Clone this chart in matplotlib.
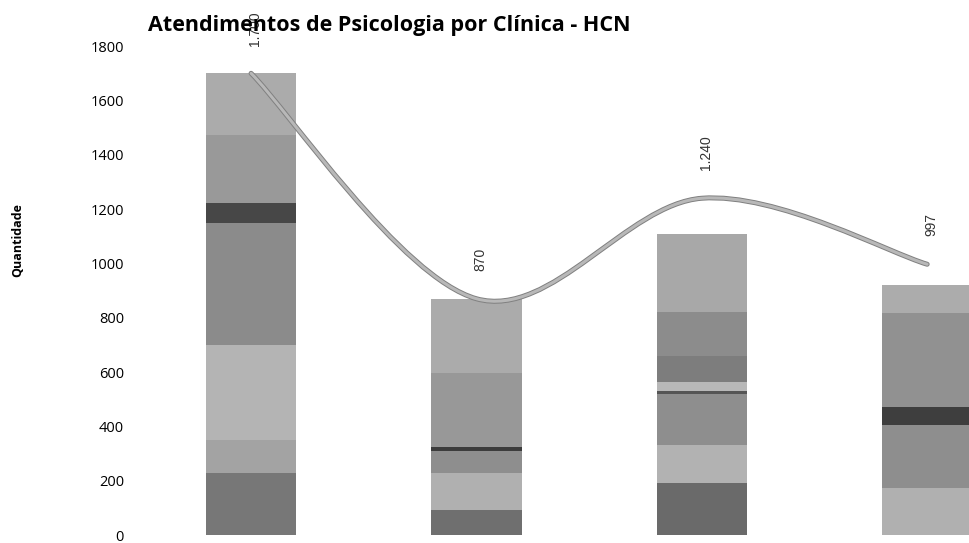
import matplotlib
matplotlib.use("Agg")
import matplotlib.pyplot as plt
from matplotlib.path import Path
import matplotlib.patches as patches
import matplotlib.patheffects as pe
import numpy as np

# totais por periodo (linha e rotulos)
totals = [1700, 870, 1240, 997]
total_labels = ["1.700", "870", "1.240", "997"]

# faixas empilhadas de cada barra, de baixo para cima
bar1_parts = [228, 122, 350, 448, 74, 250, 228]
bar2_parts = [92, 136, 82, 14, 272, 274]
bar3_parts = [191, 140, 190, 8, 33, 96, 162, 287]
bar4_parts = [173, 232, 66, 346, 103]
y_ticks = [0, 200, 400, 600, 800, 1000, 1200, 1400, 1600, 1800]

bar_parts = [bar1_parts, bar2_parts, bar3_parts, bar4_parts]
shades = [
    ["#777777", "#a3a3a3", "#b4b4b4", "#8b8b8b", "#474747", "#999999", "#ababab"],
    ["#6f6f6f", "#b0b0b0", "#8e8e8e", "#3c3c3c", "#989898", "#ababab"],
    ["#6a6a6a", "#b2b2b2", "#8e8e8e", "#555555", "#b8b8b8", "#7d7d7d", "#8c8c8c", "#a8a8a8"],
    ["#b0b0b0", "#8e8e8e", "#3e3e3e", "#919191", "#acacac"],
]

fig = plt.figure(figsize=(9.7, 5.43), dpi=100)
ax = fig.add_axes([0.145, 0.0147, 0.855, 0.9003])

x = np.arange(len(totals))
for i, parts in enumerate(bar_parts):
    bottom = 0
    for val, col in zip(parts, shades[i]):
        ax.bar(x[i], val, bottom=bottom, width=0.40, color=col, edgecolor="none", linewidth=0)
        bottom += val

# linha suavizada (bezier estilo Excel)
pts = list(zip(x.astype(float), totals))
verts = [pts[0]]
codes = [Path.MOVETO]
n = len(pts)
for i in range(n - 1):
    p0 = np.array(pts[i - 1 if i > 0 else 0])
    p1 = np.array(pts[i])
    p2 = np.array(pts[i + 1])
    p3 = np.array(pts[i + 2 if i + 2 < n else n - 1])
    c1 = p1 + (p2 - p0) / 6.0
    c2 = p2 - (p3 - p1) / 6.0
    verts += [tuple(c1), tuple(c2), tuple(p2)]
    codes += [Path.CURVE4, Path.CURVE4, Path.CURVE4]
curve = patches.PathPatch(Path(verts, codes), facecolor="none", edgecolor="#b8b8b8",
                          lw=2.2, zorder=5, capstyle="round",
                          path_effects=[pe.Stroke(linewidth=3.6, foreground="#808080"), pe.Normal()])
ax.add_patch(curve)

for xi, v, lab in zip(x, totals, total_labels):
    ax.annotate(lab, (xi, v), xytext=(3, 20), textcoords="offset points",
                rotation=90, ha="center", va="bottom", fontsize=10,
                family="Liberation Sans", color="#333333", zorder=6)

ax.set_xlim(-0.49, 3.19)
ax.set_ylim(0, 1800)
ax.set_yticks(y_ticks)
ax.set_xticks([])
ax.tick_params(axis="y", length=0, pad=12, labelsize=10.5)
for lab in ax.get_yticklabels():
    lab.set_family("Open Sans")
for s in ax.spines.values():
    s.set_visible(False)

fig.text(0.018, 1 - 240 / 543, "Quantidade", rotation=90, ha="center", va="center",
         fontsize=9, fontweight="bold", family="Open Sans")
fig.text(148 / 970, 1 - 26 / 543, "Atendimentos de Psicologia por Clínica - HCN",
         ha="left", va="center", fontsize=15.5, fontweight="bold", family="Open Sans")

fig.savefig("out.png", dpi=100)
